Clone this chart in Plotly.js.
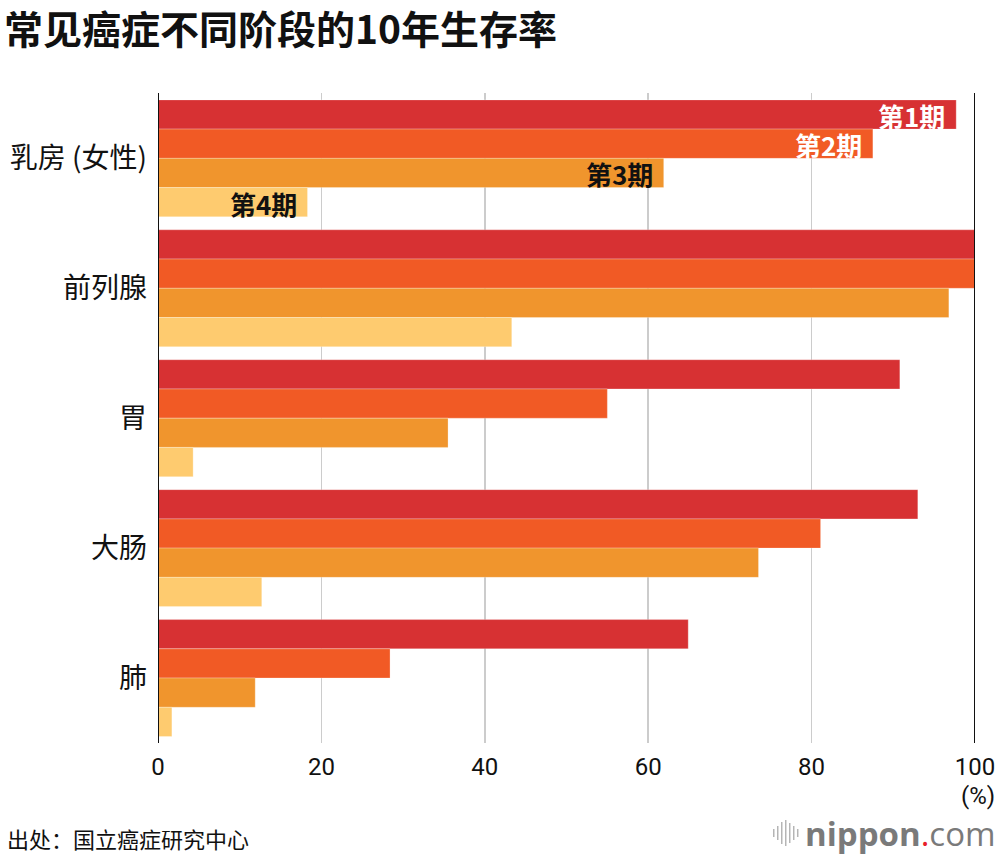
<!DOCTYPE html>
<html>
<head>
<meta charset="utf-8">
<script src="https://cdn.plot.ly/plotly-3.0.1.min.js"></script>
<style>
  html, body { margin: 0; padding: 0; background: #fff; }
  #chart { width: 1000px; height: 856px; }
</style>
</head>
<body>
<div id="chart"></div>
<script>
const categories = ['乳房 (女性)', '前列腺', '胃', '大肠', '肺'];
const stageNames = ['第1期', '第2期', '第3期', '第4期'];
const stage1 = [97.7, 100, 90.8, 93.0, 64.9];
const stage2 = [87.5, 100, 55.0, 81.1, 28.4];
const stage3 = [61.9, 96.8, 35.5, 73.5, 11.9];
const stage4 = [18.3, 43.3, 4.3, 12.7, 1.7];
const xTicks = [0, 20, 40, 60, 80, 100];

const colors = ['#D73133', '#F15A25', '#F0952D', '#FECB6F'];
const labelColors = ['#ffffff', '#ffffff', '#111111', '#111111'];
const series = [stage1, stage2, stage3, stage4];

const CJK = '"Noto Sans CJK SC", "Noto Sans", sans-serif';
const NUM = 'Roboto, "Liberation Sans", sans-serif';

const traces = series.map((vals, i) => ({
  type: 'bar',
  orientation: 'h',
  name: stageNames[i],
  y: categories,
  x: vals,
  marker: { color: colors[i], line: { color: 'rgba(255,255,255,0.45)', width: 0.6 } },
  hoverinfo: 'x+y+name',
  cliponaxis: true
}));

const groupWidth = 0.9;
const barW = groupWidth / 4;
const stageAnnotations = stageNames.map((s, i) => ({
  x: series[i][0],
  y: 0 - groupWidth / 2 + barW * (i + 0.5),
  xref: 'x', yref: 'y',
  text: '<b>' + s + '</b>',
  showarrow: false,
  xanchor: 'right', yanchor: 'middle',
  xshift: -9, yshift: -1,
  font: { family: CJK, size: 26, color: labelColors[i] }
}));

const W = 1000, H = 856, ML = 157.5, MR = 24.5, MT = 93, MB = 113;
const PW = W - ML - MR, PH = H - MT - MB;
function px(xp) { return (xp - ML) / PW; }
function py(yp) { return (H - MB - yp) / PH; }

const annotations = stageAnnotations.concat([
  {
    x: 100, y: 0, xref: 'x', yref: 'paper',
    text: '(%)', showarrow: false,
    xanchor: 'center', yanchor: 'middle', yshift: -53, xshift: 3,
    font: { family: NUM, size: 24, color: '#111' }
  },
  {
    x: px(4), y: py(838), xref: 'paper', yref: 'paper',
    text: '出处：国立癌症研究中心', showarrow: false,
    xanchor: 'left', yanchor: 'middle',
    font: { family: CJK, size: 22, color: '#111' }
  },
  {
    x: px(999), y: py(833), xref: 'paper', yref: 'paper',
    text: '<b>nippon</b><span style="color:#E8202A">.</span>com', showarrow: false,
    xanchor: 'right', yanchor: 'middle',
    font: { family: '"Open Sans", sans-serif', size: 33, color: '#7a7a7a' }
  }
]);

const waveX = [774, 778, 782, 786, 790, 794, 798];
const waveH = [8, 14, 22, 26, 20, 14, 8];
const shapes = [
  { type: 'line', xref: 'x', yref: 'paper', x0: 0, x1: 0, y0: 0, y1: 1, line: { color: '#111', width: 2 }, layer: 'above' },
  { type: 'line', xref: 'x', yref: 'paper', x0: 100, x1: 100, y0: 0, y1: 1, line: { color: '#111', width: 2 }, layer: 'above' }
];
waveX.forEach((wx, i) => {
  shapes.push({
    type: 'line', xref: 'paper', yref: 'paper',
    x0: px(wx), x1: px(wx), y0: py(833 - waveH[i] / 2), y1: py(833 + waveH[i] / 2),
    line: { color: '#b5b5b5', width: 1.5 }
  });
});

const layout = {
  width: W, height: H,
  margin: { l: ML, r: MR, t: MT, b: MB, pad: 0 },
  paper_bgcolor: '#fff', plot_bgcolor: '#fff',
  showlegend: false,
  barmode: 'group',
  bargap: 0.1,
  bargroupgap: 0,
  title: {
    text: '<b>常见癌症不同阶段的10年生存率</b>',
    xref: 'container', yref: 'container',
    x: 4 / 1000, xanchor: 'left',
    y: 1 - 30 / 856, yanchor: 'middle',
    font: { family: CJK, size: 39, color: '#111' }
  },
  xaxis: {
    range: [0, 100],
    tickvals: xTicks,
    ticktext: xTicks.map(String),
    showgrid: true, gridcolor: '#cccccc', gridwidth: 1.5,
    zeroline: false, showline: false,
    ticks: '', ticklabelstandoff: 7,
    tickfont: { family: NUM, size: 24, color: '#111' },
    fixedrange: true
  },
  yaxis: {
    type: 'category',
    autorange: 'reversed',
    showgrid: false, zeroline: false, showline: false,
    ticks: '', ticklabelstandoff: 10,
    tickfont: { family: CJK, size: 28, color: '#111' },
    fixedrange: true
  },
  annotations: annotations,
  shapes: shapes
};

Plotly.newPlot('chart', traces, layout, { displayModeBar: false, staticPlot: true });
</script>
</body>
</html>
